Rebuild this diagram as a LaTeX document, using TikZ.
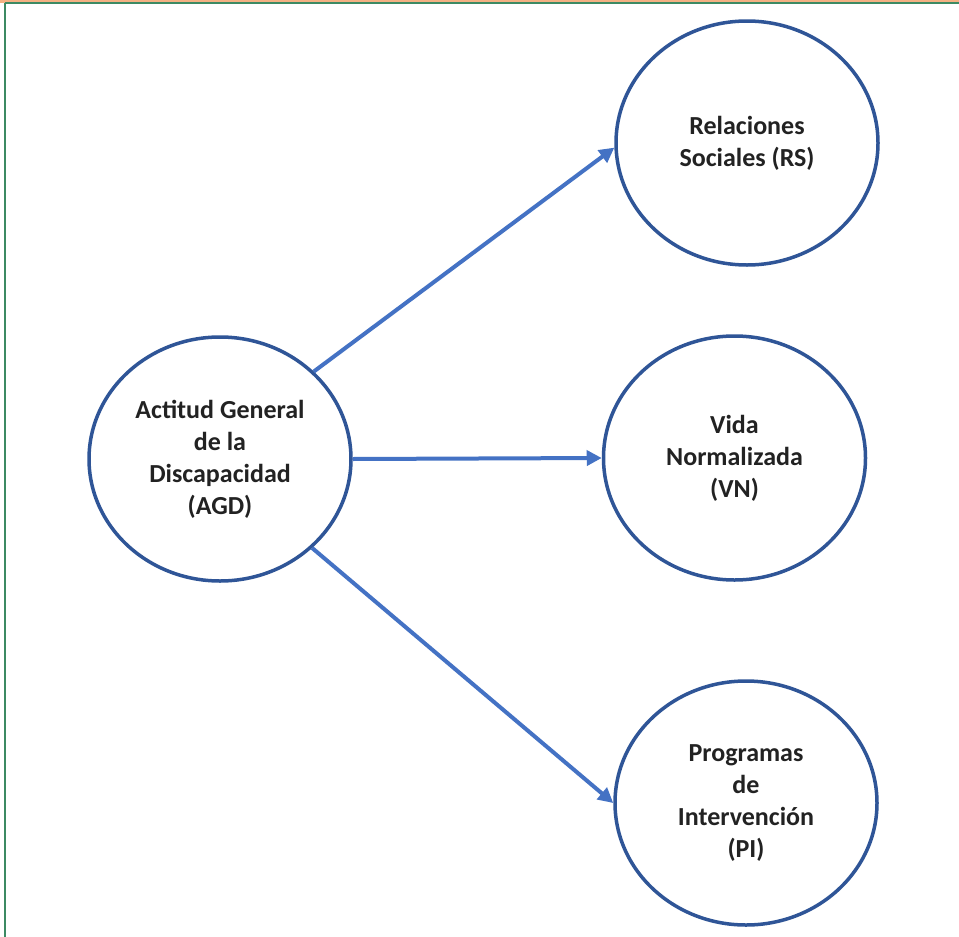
\documentclass[tikz,border=0pt]{standalone}
\usepackage{fontspec}
\setmainfont{Carlito}
\usetikzlibrary{shapes.geometric,arrows.meta}
\definecolor{ringblue}{HTML}{2F5597}
\definecolor{arrowblue}{HTML}{4472C4}
\definecolor{bandorange}{HTML}{F4B183}
\definecolor{framegreen}{HTML}{3C8A63}
\definecolor{textdark}{HTML}{222222}
\tikzset{
  bubble/.style={ellipse, draw=ringblue, line width=3.5pt, minimum width=262pt, minimum height=244pt, inner sep=0pt,
    align=center, font=\fontsize{26}{32}\selectfont\bfseries, text=textdark},
  link/.style={draw=arrowblue, line width=4pt, -{Triangle[length=15pt,width=15pt]}}
}
\begin{document}
\begin{tikzpicture}[x=1pt,y=-1pt]
\useasboundingbox (0,0) rectangle (959,937);
\fill[white] (0,0) rectangle (959,937);
\fill[bandorange] (0,0) rectangle (959,2.5);
\draw[framegreen, line width=1.5pt] (5,3) -- (959,3);
\draw[framegreen, line width=2pt] (5,3) -- (5,937);
\node[bubble] (AGD) at (220,459) {Actitud General\\de la\\Discapacidad\\(AGD)};
\node[bubble] (RS) at (747,143) {Relaciones\\Sociales (RS)};
\node[bubble] (VN) at (734.5,458) {Vida\\Normalizada\\(VN)};
\node[bubble] (PI) at (746,803) {Programas\\de\\Intervención\\(PI)};
\draw[link] (AGD.43) -- (RS.182);
\draw[link] (AGD.east) -- (VN.west);
\draw[link] (AGD.-44) -- (PI.west);
\end{tikzpicture}
\end{document}
